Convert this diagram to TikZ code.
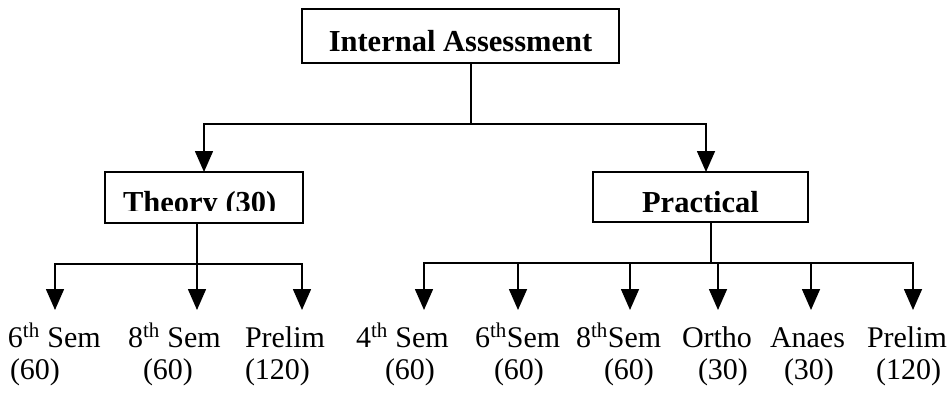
\documentclass[tikz,border=0pt]{standalone}
\usepackage{fontspec}
\setmainfont{Liberation Serif}
\usetikzlibrary{arrows.meta}
\begin{document}
\begin{tikzpicture}[x=1pt,y=-1pt,
  every node/.style={inner sep=0pt,outer sep=0pt},
  lbl/.style={font=\fontsize{30}{36}\selectfont, anchor=base west},
  hdr/.style={font=\fontsize{30.5}{36}\selectfont\bfseries},
  boxed/.style={draw, line width=1.5pt, inner sep=0pt},
  conn/.style={line width=1.6pt},
  arr/.style={conn, -{Triangle[width=18pt,length=21pt]}}]
\useasboundingbox[fill=white] (0,0) rectangle (948,394);

% top box
\node[boxed, minimum width=317pt, minimum height=54pt] (ia) at (460.5,36) {};
\node[hdr, anchor=base] (iat) at (460.5,51) {Internal Assessment};

% second level boxes
\node[boxed, minimum width=198pt, minimum height=51pt] (th) at (204,197.5) {};
\begin{scope}
  \clip (106,173) rectangle (302,210);
  \node[hdr, anchor=base west] (tht) at (123,212.5) {Theory (30)};
\end{scope}
\node[boxed, minimum width=215pt, minimum height=50pt] (pr) at (700.5,197) {};
\node[hdr, anchor=base] (prt) at (700.5,212) {Practical};

% level 1 connectors
\coordinate (j1) at (471,124);
\draw[conn] (ia.south -| j1) -- (j1);
\draw[arr] (j1) -| (th.north);
\draw[arr] (j1) -| ([xshift=5.5pt]pr.north);

% left group
\coordinate (j2) at (197,264);
\draw[conn] ([xshift=-7pt]th.south) -- (j2);
\coordinate (a1) at (55,310);
\coordinate (a2) at (197,310);
\coordinate (a3) at (302,310);
\draw[arr] (j2) -| (a1);
\draw[arr] (j2) -- (a2);
\draw[arr] (j2) -| (a3);

\node[lbl] (l1) at (8,347) {6\textsuperscript{th} Sem};
\node[lbl] (l2) at (128,347) {8\textsuperscript{th} Sem};
\node[lbl] (l3) at (245,347) {Prelim};
\node[lbl] (m1) at (10,379) {(60)};
\node[lbl] (m2) at (143,379) {(60)};
\node[lbl] (m3) at (245,379) {(120)};

% right group
\coordinate (j3) at (711,263);
\draw[conn] ([xshift=10.5pt]pr.south) -- (j3);
\coordinate (b1) at (424,310);
\coordinate (b2) at (518,310);
\coordinate (b3) at (630,310);
\coordinate (b4) at (718,310);
\coordinate (b5) at (811,310);
\coordinate (b6) at (913,310);
\draw[arr] (j3) -| (b1);
\draw[arr] (j3) -| (b2);
\draw[arr] (j3) -| (b3);
\draw[arr] (j3) -| (b4);
\draw[arr] (j3) -| (b5);
\draw[arr] (j3) -| (b6);

\node[lbl] (r1) at (356,347) {4\textsuperscript{th} Sem};
\node[lbl] (r2) at (475,347) {6\textsuperscript{th}Sem};
\node[lbl] (r3) at (576,347) {8\textsuperscript{th}Sem};
\node[lbl] (r4) at (682,347) {Ortho};
\node[lbl] (r5) at (770,347) {Anaes};
\node[lbl] (r6) at (867,347) {Prelim};
\node[lbl] (s1) at (385,379) {(60)};
\node[lbl] (s2) at (494,379) {(60)};
\node[lbl] (s3) at (604,379) {(60)};
\node[lbl] (s4) at (698,379) {(30)};
\node[lbl] (s5) at (784,379) {(30)};
\node[lbl] (s6) at (876,379) {(120)};
\end{tikzpicture}
\end{document}
